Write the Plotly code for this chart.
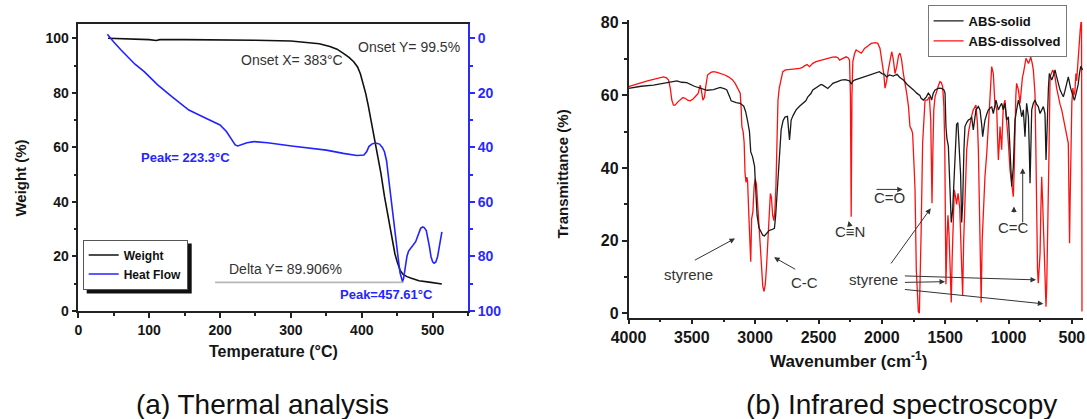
import plotly.graph_objects as go

W, H = 1087, 419

# ---------------- (a) Thermal analysis ----------------
temp_weight = [42, 60, 80, 100, 110, 115, 150, 200, 250, 300, 326, 340, 355, 365, 374, 382,
               388.6, 394, 398, 402, 405.5, 409, 413, 416.5, 420, 423.5, 427, 432, 436, 439.5,
               443, 446.7, 450, 454, 458, 463.7, 470, 480.6, 495, 513]
weight = [100, 99.9, 99.7, 99.5, 99.2, 99.5, 99.5, 99.5, 99.3, 99.0, 98.4, 98.0, 97.0, 96.0,
          94.5, 93.0, 91.4, 89.5, 87.0, 83.5, 79.8, 75.5, 70.0, 66.0, 61.5, 56.0, 50.5, 42.0,
          36.0, 31.0, 25.5, 21.0, 18.0, 15.0, 13.5, 12.6, 12.0, 11.1, 10.6, 9.9]

temp_heat = [41, 45, 49.4, 60, 68.8, 80, 93, 112, 132, 156, 180, 200, 209, 217, 221.4, 225,
             228.7, 238, 248, 267, 301, 350, 374, 393, 403, 407, 410, 414, 417.6, 421, 425,
             429, 432, 435, 437, 440, 442, 446, 449, 452, 454, 456, 457.4, 459, 460, 462,
             463.7, 466, 468.5, 472, 476, 480, 483, 486, 488, 491, 493, 495.5, 497.6, 500,
             502, 504.5, 507, 509, 511, 513]
heat_flow = [-1.5, 0, 1.2, 4.2, 6.7, 9.5, 12.2, 17.1, 21.4, 26.3, 29.3, 31.8, 34.2, 37.3,
             39.1, 39.5, 39.1, 38.3, 37.9, 38.3, 39.5, 41.0, 42.2, 43.0, 42.8, 41.5, 39.7,
             38.8, 38.5, 38.5, 38.8, 40.0, 41.6, 45.0, 49.5, 56.0, 61.7, 70.0, 77.6, 82.0,
             86.0, 88.5, 89.2, 88.0, 86.0, 83.0, 80.0, 78.0, 77.0, 76.0, 74.6, 72.0, 69.7,
             69.2, 69.4, 70.5, 72.7, 76.5, 80.0, 82.0, 82.5, 82.0, 80.0, 77.0, 74.0, 71.0]

delta_x = [193, 459]
delta_y = [10.5, 10.5]

# ---------------- (b) Infrared spectroscopy ----------------
wn_solid = [4000, 3900, 3803, 3700, 3618, 3580, 3540, 3480, 3434, 3380, 3329, 3276, 3240, 3224,
            3200, 3190, 3150, 3118, 3090, 3075, 3060, 3045, 3035, 3020, 3005, 2995, 2985, 2970,
            2955, 2940, 2927, 2910, 2890, 2870, 2848, 2838, 2828, 2818, 2808, 2795, 2780, 2765,
            2745, 2738, 2729, 2722, 2716, 2700, 2677, 2650, 2624, 2600, 2584, 2560, 2545, 2520,
            2505, 2480, 2466, 2440, 2427, 2400, 2387, 2350, 2321, 2290, 2255, 2242, 2230, 2216,
            2180, 2137, 2100, 2071, 2040, 2019, 2000, 1980, 1962, 1940, 1910, 1880, 1860, 1830,
            1800, 1778, 1750, 1725, 1700, 1690, 1672, 1650, 1633, 1620, 1607, 1595, 1580, 1550,
            1528, 1510, 1501, 1494, 1486, 1475, 1462, 1452, 1441, 1430, 1422, 1410, 1400, 1390,
            1378, 1370, 1362, 1352, 1344, 1330, 1317, 1300, 1291, 1278, 1267, 1257, 1238, 1225,
            1212, 1204, 1195, 1186, 1170, 1159, 1133, 1120, 1099, 1080, 1067, 1054, 1041, 1028,
            1015, 1001, 988, 975, 962, 949, 936, 922, 909, 896, 883, 870, 857, 843, 836, 830,
            822, 817, 804, 791, 778, 765, 751, 738, 725, 712, 704, 698, 693, 685, 678, 669, 659,
            645, 633, 620, 607, 593, 580, 567, 556, 546, 535, 528, 510, 495, 480, 470, 460, 450,
            440, 430, 415]
t_solid = [61.9, 62.5, 62.8, 63.5, 64.0, 63.6, 63.5, 62.5, 61.9, 61.4, 61.6, 62.2, 61.8, 61.5,
           59.5, 58.5, 58.0, 57.8, 57.0, 55.5, 53.0, 50.0, 44.5, 43.0, 40.5, 33.0, 27.0, 23.5,
           22.3, 21.5, 21.3, 22.0, 22.8, 23.0, 23.4, 27.0, 33.0, 40.0, 46.0, 50.5, 53.0, 54.0,
           54.2, 51.0, 47.7, 50.5, 53.2, 54.5, 56.0, 57.0, 57.8, 58.5, 59.6, 60.5, 61.5, 62.0,
           62.4, 63.0, 62.8, 62.3, 61.9, 62.8, 63.3, 63.8, 64.2, 64.3, 64.0, 63.1, 63.8, 64.2,
           64.6, 65.1, 65.6, 66.0, 66.2, 66.5, 66.0, 65.8, 65.1, 65.6, 65.3, 65.8, 65.0, 64.2,
           63.0, 62.4, 61.5, 60.6, 60.0, 59.2, 58.7, 59.5, 60.6, 60.0, 58.7, 60.5, 61.5, 62.0,
           61.9, 61.5, 60.6, 51.4, 48.0, 46.0, 33.9, 25.0, 28.4, 38.0, 43.1, 52.0, 52.5, 46.8,
           38.0, 25.0, 30.0, 45.0, 51.4, 52.5, 53.2, 53.5, 54.1, 50.5, 54.0, 56.0, 56.9, 56.0,
           52.0, 48.6, 51.0, 53.2, 55.0, 56.0, 56.9, 55.0, 58.7, 56.0, 57.0, 57.8, 56.0, 57.8,
           53.2, 54.1, 45.0, 34.9, 40.4, 53.2, 56.0, 58.7, 56.9, 54.1, 56.0, 48.6, 57.8, 54.1,
           45.0, 35.8, 48.0, 56.0, 57.8, 58.7, 57.5, 56.9, 55.0, 56.0, 56.9, 55.0, 42.2, 48.0,
           56.0, 62.0, 66.0, 65.0, 64.2, 65.5, 67.0, 65.1, 63.0, 61.5, 60.5, 59.6, 61.0, 62.4,
           64.0, 65.1, 62.0, 60.0, 58.6, 60.0, 61.3, 63.0, 66.0, 68.0, 67.0]

wn_dissolved = [4000, 3950, 3908, 3850, 3803, 3760, 3724, 3700, 3684, 3670, 3658, 3645, 3632,
                3610, 3592, 3570, 3553, 3530, 3513, 3490, 3474, 3450, 3434, 3425, 3413, 3400,
                3390, 3376, 3350, 3329, 3300, 3276, 3240, 3211, 3180, 3158, 3135, 3118, 3110,
                3105, 3095, 3087, 3080, 3072, 3066, 3060, 3050, 3042, 3035, 3028, 3018, 3008,
                3000, 2990, 2980, 2970, 2962, 2950, 2940, 2930, 2920, 2910, 2900, 2890, 2880,
                2872, 2862, 2852, 2845, 2836, 2828, 2820, 2810, 2795, 2782, 2760, 2729, 2700,
                2650, 2630, 2611, 2590, 2571, 2545, 2519, 2490, 2466, 2440, 2413, 2390, 2361,
                2345, 2334, 2310, 2282, 2265, 2255, 2248, 2242, 2236, 2229, 2215, 2203, 2180,
                2163, 2150, 2137, 2110, 2084, 2050, 2032, 2015, 2001, 1985, 1975, 1962, 1949,
                1935, 1922, 1910, 1896, 1882, 1868, 1857, 1845, 1830, 1815, 1804, 1790, 1778,
                1765, 1757, 1745, 1738, 1728, 1720, 1712, 1704, 1697, 1690, 1678, 1665, 1659,
                1641, 1625, 1614, 1604, 1597, 1590, 1580, 1567, 1555, 1541, 1530, 1520, 1510,
                1503, 1494, 1486, 1478, 1470, 1460, 1452, 1445, 1438, 1428, 1418, 1410, 1398,
                1385, 1372, 1362, 1354, 1343, 1330, 1315, 1304, 1290, 1278, 1257, 1245, 1238,
                1230, 1222, 1216, 1208, 1199, 1186, 1172, 1159, 1145, 1133, 1126, 1120, 1108,
                1093, 1086, 1080, 1074, 1067, 1060, 1054, 1047, 1041, 1028, 1020, 1015, 1008,
                1001, 988, 975, 962, 955, 949, 942, 936, 929, 922, 909, 900, 890, 883, 870, 862,
                852, 843, 834, 825, 814, 804, 796, 791, 784, 778, 771, 765, 758, 751, 745, 738,
                730, 724, 720, 712, 704, 698, 692, 686, 680, 672, 661, 651, 640, 633, 620, 607,
                593, 580, 567, 554, 540, 528, 522, 518, 514, 508, 500, 492, 484, 476, 468, 462,
                455, 448, 440, 434, 428, 424, 421, 420]
t_dissolved = [62.4, 63.0, 63.5, 64.0, 64.4, 64.8, 65.1, 64.8, 64.2, 62.0, 58.7, 57.3, 57.3,
               58.2, 58.7, 59.4, 59.2, 58.6, 58.5, 59.0, 59.6, 60.5, 62.8, 61.5, 58.7, 59.5,
               62.5, 65.6, 66.3, 66.5, 66.3, 66.1, 65.6, 65.1, 64.3, 63.3, 61.5, 60.6, 56.0,
               51.4, 50.0, 47.0, 38.5, 36.0, 37.5, 36.5, 27.0, 20.0, 14.2, 26.0, 28.0, 35.0,
               37.0, 35.5, 30.0, 24.0, 20.0, 12.0, 7.5, 6.0, 8.0, 13.0, 20.0, 30.0, 33.0,
               32.0, 27.0, 25.5, 28.0, 35.0, 50.0, 58.6, 62.0, 64.5, 66.5, 67.0, 67.0, 67.2,
               67.4, 67.6, 68.1, 68.5, 67.9, 68.8, 69.3, 69.6, 69.7, 70.1, 70.2, 70.5, 70.6,
               70.3, 69.7, 70.2, 70.6, 70.3, 69.7, 60.0, 26.6, 60.0, 69.3, 71.5, 72.5, 72.0,
               71.6, 72.2, 72.9, 73.6, 74.3, 74.5, 74.3, 73.0, 69.7, 66.0, 62.0, 64.0, 67.0,
               70.0, 72.0, 70.0, 66.0, 68.0, 71.0, 71.6, 70.0, 66.0, 62.0, 60.6, 57.0, 51.4,
               50.5, 49.5, 40.0, 34.0, 12.0, 3.0, 0.5, 0.0, 8.0, 22.0, 46.8, 57.0, 58.7,
               58.7, 59.6, 53.2, 30.3, 45.0, 56.0, 59.6, 61.5, 62.5, 63.8, 63.5, 62.4, 57.0,
               45.0, 8.0, 20.0, 27.0, 22.0, 10.0, 3.0, 15.0, 26.0, 34.0, 32.0, 30.0, 33.0,
               29.0, 15.0, 5.0, 20.0, 32.0, 45.0, 50.0, 52.3, 54.5, 56.0, 57.3, 52.0, 45.0,
               30.0, 10.0, 3.0, 20.0, 28.4, 37.6, 44.0, 50.5, 60.0, 67.9, 67.0, 66.0, 58.0,
               56.0, 48.0, 42.2, 46.0, 51.4, 48.0, 45.0, 52.0, 56.9, 58.7, 56.0, 53.2, 50.0,
               46.8, 39.4, 35.8, 32.1, 40.0, 52.3, 60.0, 63.3, 62.5, 61.5, 57.8, 62.0, 65.0,
               66.0, 69.0, 70.2, 69.5, 68.8, 69.5, 70.6, 69.0, 67.0, 63.0, 60.6, 45.0, 23.9,
               12.0, 8.3, 12.0, 16.5, 28.0, 37.6, 30.0, 22.0, 19.3, 8.0, 1.8, 8.0, 18.0, 28.4,
               45.0, 65.1, 66.5, 67.0, 66.0, 65.1, 62.0, 59.6, 57.5, 56.0, 53.5, 51.4, 48.0,
               46.8, 30.0, 19.3, 30.0, 48.0, 58.0, 62.0, 60.0, 61.0, 66.0, 64.0, 68.0, 70.0,
               74.0, 78.0, 80.0, 80.0, 40.0, 0.5]

# text labels (a)
a_labels = ["Onset X= 383°C", "Onset Y= 99.5%", "Delta Y= 89.906%"]
a_label_x = [301, 466, 291.7]
a_label_y = [92, 96.7, 15.3]
a_peaks = ["Peak= 223.3°C", "Peak=457.61°C"]
a_peak_x = [151, 434.6]
a_peak_y = [56.2, 5.9]

# text labels (b)
b_labels = ["styrene", "C-C", "C≡N", "C=O", "styrene", "C=C"]
b_label_x = [3528, 2614, 2251, 1936, 2068, 962]
b_label_y = [10.7, 8.5, 22.5, 31.8, 9.4, 23.5]
# arrows: tail (x0,y0) -> head (x1,y1)
arrow_x0 = [3488, 2672, 2250, 2054, 1936, 1830, 1830, 1830, 957, 888]
arrow_y0 = [14.4, 11.9, 23.6, 34.1, 13.3, 10.3, 8.5, 6.6, 27.3, 24.6]
arrow_x1 = [3159, 2851, 2262, 1835, 1614, 783, 1501, 725, 957, 888]
arrow_y1 = [20.6, 15.4, 25.4, 34.1, 28.9, 9.2, 8.7, 2.6, 29.4, 39.9]

fig = go.Figure()

fig.add_trace(go.Scatter(x=temp_weight, y=weight, name="Weight", mode="lines",
                         line=dict(color="#111111", width=1.6), xaxis="x", yaxis="y",
                         legend="legend"))
fig.add_trace(go.Scatter(x=temp_heat, y=heat_flow, name="Heat Flow", mode="lines",
                         line=dict(color="#2323ff", width=1.6), xaxis="x", yaxis="y2",
                         legend="legend"))
fig.add_trace(go.Scatter(x=delta_x, y=delta_y, mode="lines", showlegend=False,
                         line=dict(color="#b8b8b8", width=1.6), xaxis="x", yaxis="y",
                         hoverinfo="skip"))

fig.add_trace(go.Scatter(x=wn_dissolved, y=t_dissolved, name="ABS-dissolved", mode="lines",
                         line=dict(color="#ff1010", width=1.3), xaxis="x2", yaxis="y3",
                         legend="legend2", legendrank=2))
fig.add_trace(go.Scatter(x=wn_solid, y=t_solid, name="ABS-solid", mode="lines",
                         line=dict(color="#1a1a1a", width=1.3), xaxis="x2", yaxis="y3",
                         legend="legend2", legendrank=1))

tickfont_a = dict(size=14, weight="bold", color="#151515")
tickfont_b = dict(size=16, weight="bold", color="#151515")
axis_common = dict(showgrid=False, zeroline=False, showline=True, linecolor="#222",
                   linewidth=1.5, ticks="outside", ticklen=5, tickwidth=1.5, tickcolor="#222",
                   automargin=False)

annotations = []
for t, x, y in zip(a_labels, a_label_x, a_label_y):
    annotations.append(dict(text=t, x=x, y=y, xref="x", yref="y", showarrow=False,
                            font=dict(size=14, color="#333")))
for t, x, y in zip(a_peaks, a_peak_x, a_peak_y):
    annotations.append(dict(text=t, x=x, y=y, xref="x", yref="y", showarrow=False,
                            font=dict(size=13, color="#2525ff", weight="bold")))
for t, x, y in zip(b_labels, b_label_x, b_label_y):
    annotations.append(dict(text=t, x=x, y=y, xref="x2", yref="y3", showarrow=False,
                            font=dict(size=15, color="#333")))
for x0, y0, x1, y1 in zip(arrow_x0, arrow_y0, arrow_x1, arrow_y1):
    annotations.append(dict(text="", x=x1, y=y1, ax=x0, ay=y0, xref="x2", yref="y3",
                            axref="x2", ayref="y3", showarrow=True, arrowhead=2,
                            arrowsize=1.1, arrowwidth=1, arrowcolor="#333", standoff=0))


def paper_text(text, px, py, size, bold=False, angle=0, color="#151515",
               family="Liberation Sans, Arial, sans-serif"):
    f = dict(size=size, color=color, family=family)
    if bold:
        f["weight"] = "bold"
    return dict(text=text, x=px / W, y=1 - py / H, xref="paper", yref="paper",
                xanchor="center", yanchor="middle", textangle=angle, showarrow=False,
                font=f)


annotations += [
    paper_text("Weight (%)", 20.6, 178, 15, bold=True, angle=-90),
    paper_text("Temperature (°C)", 273, 351.7, 16, bold=True),
    paper_text("Transmittance (%)", 562.5, 174, 15, bold=True, angle=-90),
    paper_text("Wavenumber (cm<sup>-1</sup>)", 848, 360, 17, bold=True),
    paper_text("(a) Thermal analysis", 262, 404, 28, color="#111"),
    paper_text("(b) Infrared spectroscopy", 901, 404, 28, color="#111"),
]

# legend shadow (decorative)
leg_left, leg_top = 82.7, 239.5
shapes = [dict(type="rect", xref="paper", yref="paper",
               x0=(leg_left + 4) / W, x1=(leg_left + 105 + 4) / W,
               y0=1 - (leg_top + 50 + 4) / H, y1=1 - (leg_top + 4) / H,
               fillcolor="#111", line=dict(width=0), layer="above")]

fig.update_layout(
    width=W, height=H, margin=dict(l=0, r=0, t=0, b=0, autoexpand=False),
    paper_bgcolor="white", plot_bgcolor="white",
    font=dict(family="Liberation Sans, Arial, sans-serif", color="#151515"),
    xaxis=dict(domain=[78.3 / W, 468.1 / W], range=[0, 550], anchor="y", dtick=100, tick0=0,
               mirror=True, tickfont=tickfont_a, minor=dict(dtick=50, ticklen=3, ticks="outside",
                                                            tickcolor="#222"),
               **axis_common),
    yaxis=dict(domain=[1 - 311 / H, 1 - 24.3 / H], range=[0, 105.13], anchor="x", dtick=20,
               tick0=0, tickfont=tickfont_a,
               minor=dict(dtick=10, ticklen=3, ticks="outside", tickcolor="#222"),
               **axis_common),
    yaxis2=dict(overlaying="y", side="right", anchor="x", range=[100, -5.13], dtick=20,
                tick0=0, showgrid=False, zeroline=False, showline=True, linecolor="#2a2aff",
                linewidth=1.5, ticks="outside", ticklen=5, tickwidth=1.5, tickcolor="#2a2aff",
                automargin=False,
                tickfont=dict(size=14, weight="bold", color="#2a2aff"),
                minor=dict(dtick=10, ticklen=3, ticks="outside", tickcolor="#2a2aff")),
    xaxis2=dict(domain=[628.5 / W, 1083 / W], range=[4000, 412], anchor="y3", dtick=500,
                tick0=0, tickfont=tickfont_b,
                minor=dict(dtick=250, ticklen=3, ticks="outside", tickcolor="#222"),
                **axis_common),
    yaxis3=dict(domain=[1 - 317.5 / H, 1 - 20 / H], range=[-1.16, 80.74], anchor="x2",
                dtick=20, tick0=0, tickfont=tickfont_b,
                minor=dict(dtick=10, ticklen=3, ticks="outside", tickcolor="#222"),
                **axis_common),
    legend=dict(x=leg_left / W, y=1 - leg_top / H, xanchor="left", yanchor="top",
                bgcolor="white", bordercolor="#555", borderwidth=1,
                font=dict(size=12, weight="bold", color="#111")),
    legend2=dict(x=927.6 / W, y=1 - 5 / H, xanchor="left", yanchor="top",
                 bgcolor="white", bordercolor="#777", borderwidth=1,
                 font=dict(size=13, weight="bold", color="#111")),
    annotations=annotations,
    shapes=shapes,
)

fig.write_html(
    "out.html",
    config={"displayModeBar": False},
    post_script="document.body.style.margin='0';document.body.style.padding='0';"
                "document.body.style.overflow='hidden';",
)
